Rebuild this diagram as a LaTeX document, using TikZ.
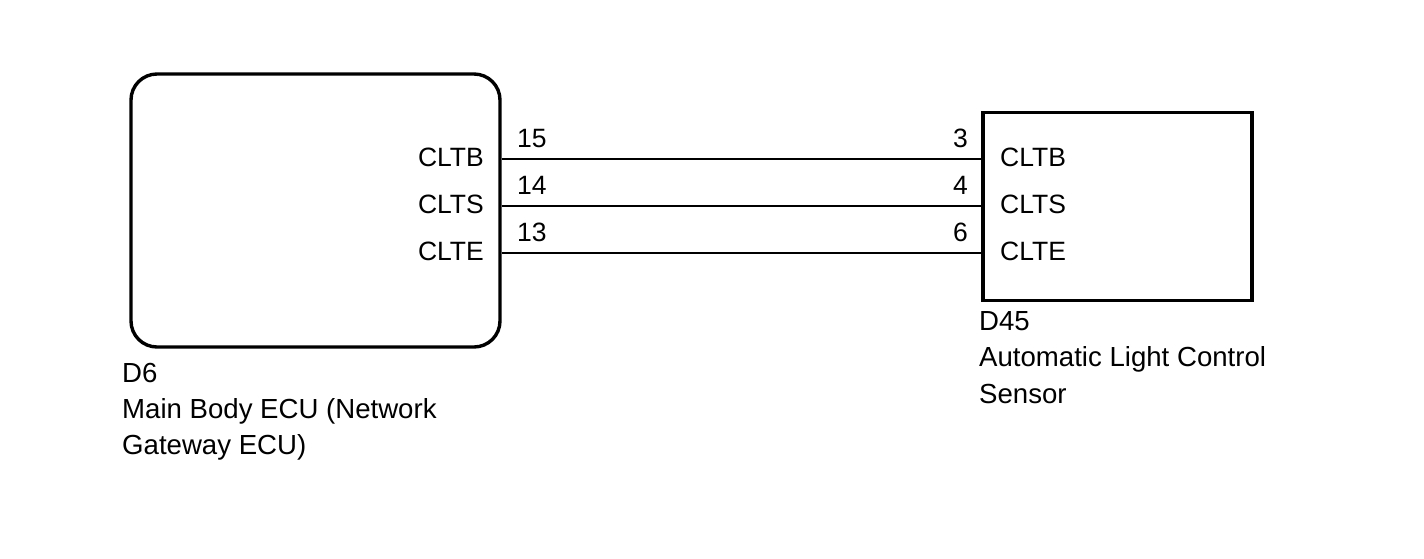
\documentclass[tikz,border=0pt]{standalone}
\usepackage{fontspec}
\setmainfont{Liberation Sans}
\begin{document}
\begin{tikzpicture}[x=1pt,y=-1pt,
  txt/.style={inner sep=0pt,font=\fontsize{26.5}{30}\selectfont},
  captxt/.style={inner sep=0pt,font=\fontsize{27.6}{32}\selectfont},
  ecu/.style={draw,line width=3.4pt,rounded corners=26pt,inner sep=0pt},
  sensorbox/.style={draw,line width=3.4pt,inner sep=0pt},
  wire/.style={line width=2pt}]
\useasboundingbox (0,0) rectangle (1424,558);
% boxes
\node[ecu,minimum width=369pt,minimum height=273pt] (L) at (315.5,210.5) {};
\node[sensorbox,minimum width=269pt,minimum height=188pt] (R) at (1117.5,206.5) {};
% pin coordinates
\coordinate (la) at (L.east |- 0,158.5);
\coordinate (lb) at (L.east |- 0,205.5);
\coordinate (lc) at (L.east |- 0,252.5);
\coordinate (ra) at (R.west |- 0,158.5);
\coordinate (rb) at (R.west |- 0,205.5);
\coordinate (rc) at (R.west |- 0,252.5);
% wires
\draw[wire] (la) -- (ra);
\draw[wire] (lb) -- (rb);
\draw[wire] (lc) -- (rc);
% left terminal names
\node[txt,anchor=base east] (ln1) at (484,166) {CLTB};
\node[txt,anchor=base east] (ln2) at (484,213) {CLTS};
\node[txt,anchor=base east] (ln3) at (484,260) {CLTE};
% left pin numbers
\node[txt,anchor=base west] (lp1) at (517,147) {15};
\node[txt,anchor=base west] (lp2) at (517,194) {14};
\node[txt,anchor=base west] (lp3) at (517,241) {13};
% right pin numbers
\node[txt,anchor=base east] (rp1) at (968,147) {3};
\node[txt,anchor=base east] (rp2) at (968,194) {4};
\node[txt,anchor=base east] (rp3) at (968,241) {6};
% right terminal names
\node[txt,anchor=base west] (rn1) at (1000,166) {CLTB};
\node[txt,anchor=base west] (rn2) at (1000,213) {CLTS};
\node[txt,anchor=base west] (rn3) at (1000,260) {CLTE};
% captions
\node[captxt,anchor=base west] (c1) at (122,382) {D6};
\node[captxt,anchor=base west] (c2) at (122,418) {Main Body ECU (Network};
\node[captxt,anchor=base west] (c3) at (122,454.5) {Gateway ECU)};
\node[captxt,anchor=base west] (d1) at (979,330) {D45};
\node[captxt,anchor=base west] (d2) at (979,366.5) {Automatic Light Control};
\node[captxt,anchor=base west] (d3) at (979,403) {Sensor};
\end{tikzpicture}
\end{document}
